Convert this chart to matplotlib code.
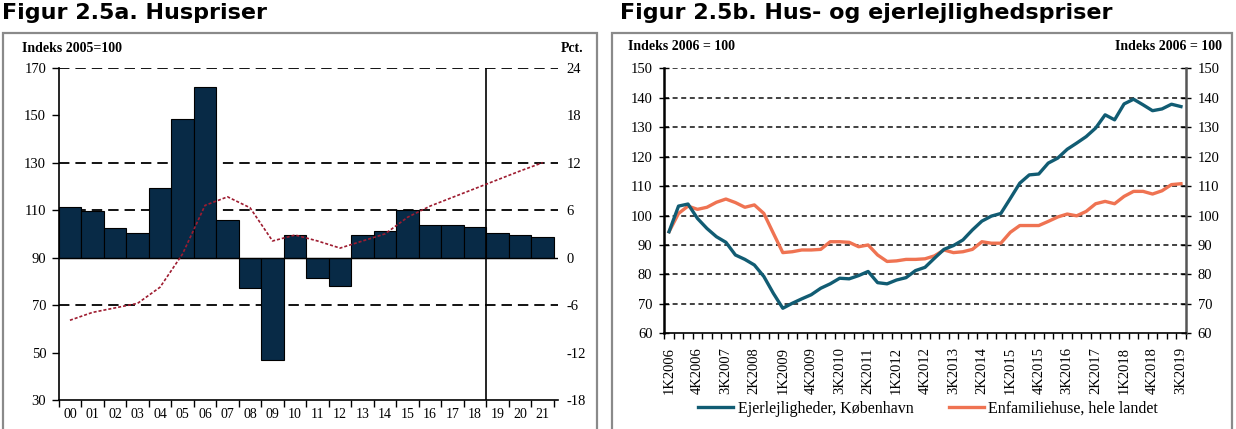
import numpy as np
import matplotlib
matplotlib.use("Agg")
import matplotlib.pyplot as plt
from matplotlib.patches import Rectangle

plt.rcParams['axes.unicode_minus'] = False
plt.rcParams['lines.scale_dashes'] = False
SERIF = 'Liberation Serif'

# ---------------- data: Figure 2.5a ----------------
years_a = ['00', '01', '02', '03', '04', '05', '06', '07', '08', '09', '10',
           '11', '12', '13', '14', '15', '16', '17', '18', '19', '20', '21']
growth_pct = [6.4, 5.9, 3.8, 3.1, 8.8, 17.5, 21.6, 4.8, -3.8, -12.9, 2.8,
              -2.6, -3.6, 2.8, 3.4, 6.0, 4.1, 4.1, 3.9, 3.1, 2.9, 2.6]
index_2005 = [63.6, 66.9, 68.8, 70.7, 77.5, 91.5, 112.0, 115.6, 111.0, 97.0, 99.5,
              97.0, 94.0, 97.0, 100.0, 107.0, 111.7, 115.4, 119.1, 122.8, 126.5, 130.0]
left_ticks_a = [30, 50, 70, 90, 110, 130, 150, 170]
right_ticks_a = [-18, -12, -6, 0, 6, 12, 18, 24]

# ---------------- data: Figure 2.5b ----------------
quarters_b = [f"{q}K{y}" for y in range(2006, 2020) for q in range(1, 5)][:55]
ejerlejligheder = [94.5, 103.2, 103.9, 99.0, 95.6, 92.8, 90.9, 86.6, 85.1, 83.2,
                   79.3, 73.6, 68.5, 70.2, 71.7, 73.1, 75.3, 76.8, 78.7, 78.5,
                   79.6, 81.0, 77.2, 76.8, 78.1, 78.9, 81.3, 82.4, 85.5, 88.5,
                   89.8, 91.7, 95.1, 98.1, 99.8, 100.7, 105.8, 111.0, 113.8, 114.1,
                   117.8, 119.5, 122.5, 124.6, 126.8, 129.7, 134.2, 132.5, 137.9, 139.5,
                   137.6, 135.6, 136.2, 137.8, 137.0]
enfamiliehuse = [94.5, 100.7, 103.2, 102.1, 102.8, 104.5, 105.6, 104.4, 102.8, 103.6,
                 100.7, 94.0, 87.4, 87.7, 88.3, 88.3, 88.5, 91.1, 91.1, 90.9,
                 89.4, 90.0, 86.6, 84.4, 84.6, 85.1, 85.1, 85.3, 86.3, 88.3,
                 87.4, 87.7, 88.5, 91.1, 90.6, 90.6, 94.3, 96.6, 96.6, 96.6,
                 98.0, 99.5, 100.5, 99.9, 101.4, 104.0, 104.8, 104.0, 106.5, 108.2,
                 108.2, 107.3, 108.4, 110.5, 110.8]
yticks_b = [60, 70, 80, 90, 100, 110, 120, 130, 140, 150]

W, H = 1236, 429
fig = plt.figure(figsize=(W / 100, H / 100), dpi=100)

def fx(px):
    return px / W

def fy(py):
    return 1 - py / H

# frames and titles
for x0, x1 in [(3, 597), (612, 1232)]:
    fig.patches.append(Rectangle((fx(x0), fy(440)), fx(x1 - x0), fy(33) - fy(440),
                                 transform=fig.transFigure, fill=False,
                                 edgecolor='#8a8a8a', lw=1.6, zorder=0))
fig.text(fx(2), fy(13), 'Figur 2.5a. Huspriser', fontsize=16, fontweight='bold',
         family='DejaVu Sans', va='center', ha='left')
fig.text(fx(620), fy(13), 'Figur 2.5b. Hus- og ejerlejlighedspriser', fontsize=16,
         fontweight='bold', family='DejaVu Sans', va='center', ha='left')

# ---------------- left chart ----------------
axL = fig.add_axes([fx(58.7), fy(400), fx(558 - 58.7), fy(67.7) - fy(400)])
axR = axL.twinx()
x = np.arange(len(years_a))
axR.bar(x, growth_pct, width=1.0, color='#082a46', edgecolor='black', lw=0.8, zorder=3)
axL.plot(x, index_2005, color='#9e1c30', lw=1.2, dashes=(2.2, 1.4), zorder=5)
axL.set_zorder(axR.get_zorder() + 1)
axL.patch.set_visible(False)

axL.set_ylim(30, 170)
axR.set_ylim(-18, 24)
axL.set_xlim(-0.5, 21.68)
for v in [24, 12, 6, -6]:
    axR.axhline(v, color='black', lw=1.3, dashes=(7.5, 4.3), zorder=1)
axR.axhline(0, color='black', lw=1.0, zorder=4)
axR.axvline(18.5, color='black', lw=1.2, zorder=4)

axL.set_yticks(left_ticks_a)
axR.set_yticks(right_ticks_a)
axL.set_xticks(np.arange(-0.5, 22, 1))
axL.set_xticklabels([])
axL.set_xticks(x, minor=True)
axL.set_xticklabels(years_a, minor=True, family=SERIF, fontsize=10)
axL.tick_params(axis='x', which='major', length=5, width=1, direction='out')
axL.tick_params(axis='x', which='minor', length=0, pad=6)
axL.tick_params(axis='y', length=5, width=1, labelsize=10.5, pad=4)
axR.tick_params(axis='y', length=0, labelsize=10.5, pad=6)
for lab in axL.get_yticklabels() + axR.get_yticklabels():
    lab.set_family(SERIF)
for sp in ['top', 'right']:
    axL.spines[sp].set_visible(False)
    axR.spines[sp].set_visible(False)
axR.spines['left'].set_visible(False)
axR.spines['bottom'].set_visible(False)
axL.spines['left'].set_linewidth(1.2)
axL.spines['bottom'].set_linewidth(1.2)
fig.text(fx(22), fy(48), 'Indeks 2005=100', family=SERIF, fontweight='bold',
         fontsize=10, va='center', ha='left')
fig.text(fx(583), fy(48), 'Pct.', family=SERIF, fontweight='bold',
         fontsize=10, va='center', ha='right')

# ---------------- right chart ----------------
ax = fig.add_axes([fx(664.3), fy(333.3), fx(1185.7 - 664.3), fy(68.3) - fy(333.3)])
q = np.arange(len(quarters_b))
l1, = ax.plot(q, ejerlejligheder, color='#115c73', lw=2.4, solid_joinstyle='round', zorder=4)
l2, = ax.plot(q, enfamiliehuse, color='#ef7352', lw=2.4, solid_joinstyle='round', zorder=3)
ax.set_xlim(-0.5, 54.5)
ax.set_ylim(60, 150)
for v in yticks_b[1:]:
    ax.axhline(v, color='#333333', lw=1.3, dashes=(3.6, 2.6), zorder=1)
ax.set_yticks(yticks_b)
ax.tick_params(axis='y', which='both', direction='inout', length=7, width=1,
               labelsize=10.5, pad=5, right=True, labelright=True)
ax.set_xticks(np.arange(-0.5, 55, 1), minor=True)
ax.set_xticks(q[::3])
ax.set_xticklabels(quarters_b[::3], rotation=90, family=SERIF, fontsize=10.5)
ax.tick_params(axis='x', which='major', length=0, pad=10)
ax.tick_params(axis='x', which='minor', length=4, width=1, direction='out')
for lab in ax.yaxis.get_ticklabels(which='both'):
    lab.set_family(SERIF)
for t in ax.yaxis.get_major_ticks():
    t.label2.set_family(SERIF)
ax.spines['top'].set_visible(False)
ax.spines['left'].set_linewidth(1.8)
ax.spines['right'].set_linewidth(1.8)
ax.spines['right'].set_color('#555555')
ax.spines['bottom'].set_linewidth(1.2)
fig.text(fx(628), fy(46), 'Indeks 2006 = 100', family=SERIF, fontweight='bold',
         fontsize=10, va='center', ha='left')
fig.text(fx(1222), fy(46), 'Indeks 2006 = 100', family=SERIF, fontweight='bold',
         fontsize=10, va='center', ha='right')

fig.legend([l1, l2], ['Ejerlejligheder, København', 'Enfamiliehuse, hele landet'],
           loc='center', bbox_to_anchor=(fx(928), fy(409)), ncol=2, frameon=False,
           prop={'family': SERIF, 'size': 11.5}, handlelength=2.2, handletextpad=0.3,
           columnspacing=2.2)

fig.savefig('out.png', dpi=100)
